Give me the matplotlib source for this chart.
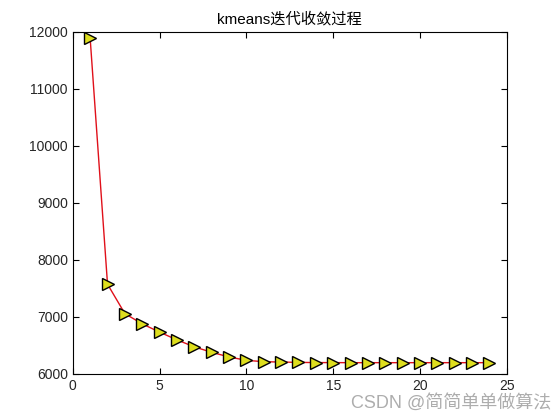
import numpy as np
import matplotlib
matplotlib.use('Agg')
import matplotlib.pyplot as plt

plt.rcParams['font.family'] = ['Liberation Sans', 'Noto Sans CJK SC', 'DejaVu Sans']

iters = np.arange(1, 25)
cost = [11880, 7570, 7055, 6875, 6730, 6595, 6472, 6377, 6295, 6236, 6212, 6206,
        6200, 6197, 6196, 6195, 6195, 6195, 6195, 6195, 6195, 6195, 6195, 6195]

fig = plt.figure(figsize=(5.6, 4.2), dpi=100)
ax = fig.add_axes([0.13, 0.11, 0.775, 0.815])

ax.plot(iters, cost, color='#e0101a', linewidth=1.0, marker='>', markersize=8,
        markerfacecolor='#dede1e', markeredgecolor='black', markeredgewidth=1.0)

ax.set_xlim(0, 25)
ax.set_ylim(6000, 12000)
ax.set_xticks(np.arange(0, 26, 5))
ax.set_yticks(np.arange(6000, 12001, 1000))
ax.tick_params(direction='in', top=True, right=True, labelsize=10, length=4,
               labelcolor='#262626')
for s in ax.spines.values():
    s.set_linewidth(0.8)
ax.set_title('kmeans迭代收敛过程', fontsize=11, pad=6)

fig.text(0.985, 0.02, 'CSDN @简简单单做算法', fontsize=13, color='#999999',
         alpha=0.8, ha='right', va='bottom')

plt.savefig('out.png', dpi=100)
